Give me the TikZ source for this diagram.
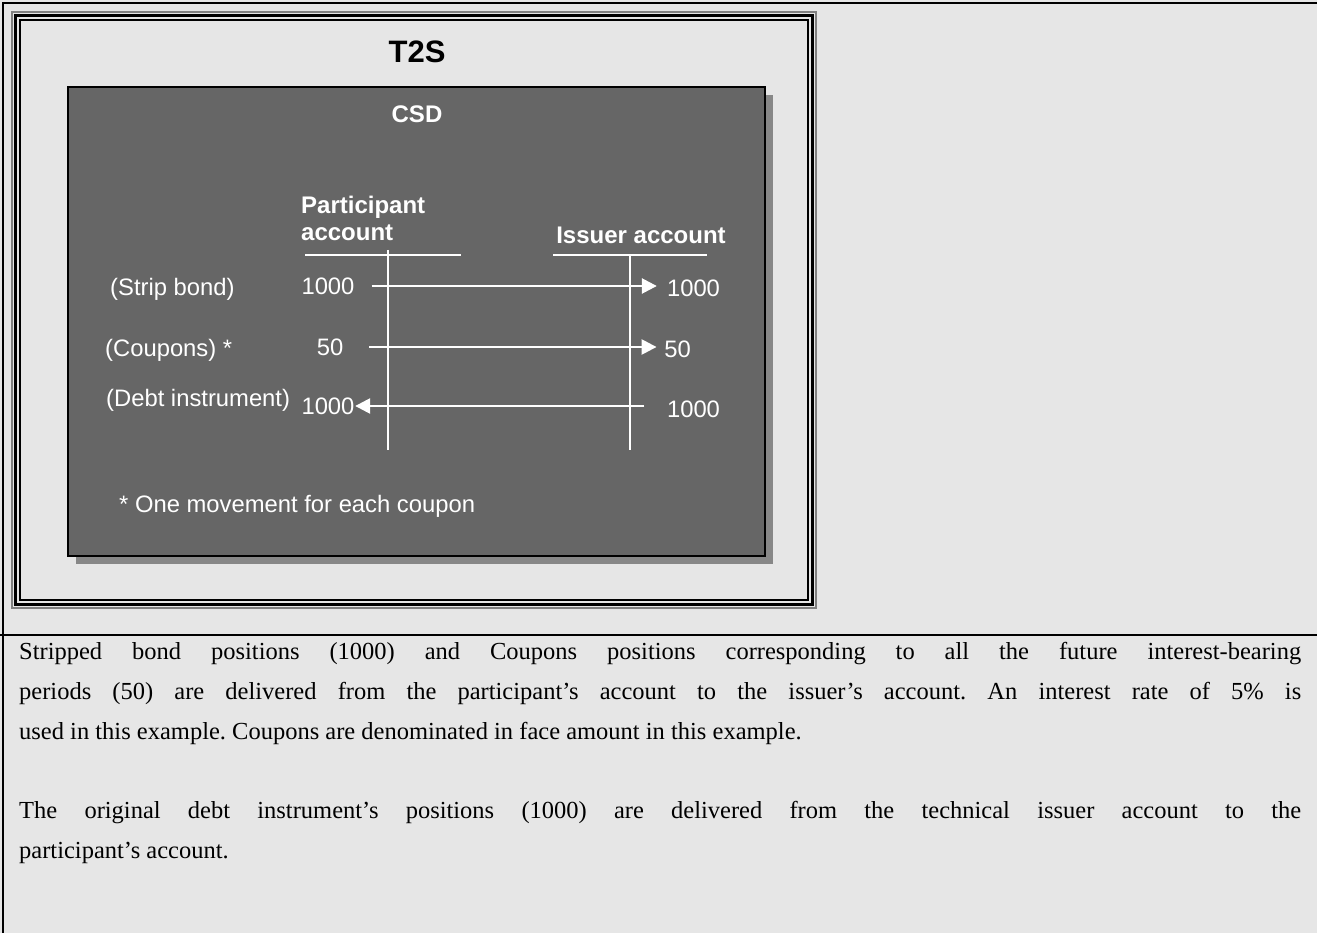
\documentclass[tikz,border=0pt]{standalone}
\usepackage{fontspec}
\setmainfont{Liberation Serif}
\setsansfont{Liberation Sans}
\usetikzlibrary{positioning,arrows.meta}
\definecolor{pagegray}{HTML}{E6E6E6}
\definecolor{csdgray}{HTML}{666666}
\definecolor{shadowgray}{HTML}{878787}

\begin{document}
\begin{tikzpicture}[x=1pt, y=-1pt,
  lbl/.style={text=white, inner sep=0pt,
              font=\sffamily\fontsize{23.8}{28}\selectfont},
  head/.style={text=white, inner sep=0pt,
               font=\sffamily\bfseries\fontsize{24}{27}\selectfont},
  flow/.style={draw=white, line width=2.5pt,
               -{Triangle[length=15pt,width=15pt]}},
  axis/.style={draw=white, line width=1.8pt},
  ]
  \useasboundingbox (0,0) rectangle (1317,933);
  \fill[pagegray] (0,0) rectangle (1317,933);
  % table rules
  \draw[line width=2.5pt] (3,934) -- (3,3) -- (1318,3);
  \draw[line width=2.5pt] (0,635) -- (1318,635);

  % T2S frame
  \draw[gray, line width=1.5pt] (12,12) rectangle (816,608);
  \draw[line width=3pt] (15.5,15.5) rectangle (812.5,604.5);
  \draw[line width=1.5pt] (20,20) rectangle (808,600);
  \node[inner sep=0pt, font=\sffamily\bfseries\fontsize{31}{31}\selectfont]
    (t2s) at (417,52) {T2S};

  % CSD box with its shadow
  \fill[shadowgray] (76,95) rectangle (773,564);
  \draw[fill=csdgray, line width=2pt] (68,87) rectangle (765,556);
  \node[head] (csd) at (417,114) {CSD};

  % account headers
  \node[head, align=left, anchor=north west] (part) at (301,195.6)
    {Participant\\account};
  \node[head] (iss) at (641,235) {Issuer account};
  \draw[axis] (305,255) -- (461,255);
  \draw[axis] (388,250) -- (388,450);
  \draw[axis] (553,255) -- (707,255);
  \draw[axis] (630,255) -- (630,450);

  % movements
  \node[lbl, anchor=west] (sb) at (110,289) {(Strip bond)};
  \node[lbl, anchor=west] (cp) at (105,350) {(Coupons) *};
  \node[lbl, anchor=west] (di) at (106,400) {(Debt instrument)};

  \node[lbl] (sb-l) at (328,286) {1000};
  \node[lbl] (sb-r) at (693.5,288) {1000};
  \node[lbl] (cp-l) at (330,347) {50};
  \node[lbl] (cp-r) at (677.5,349) {50};
  \node[lbl] (di-l) at (328,406) {1000};
  \node[lbl] (di-r) at (693.5,409) {1000};

  \draw[flow, shorten <=17pt, shorten >=10pt] (sb-l.east) -- (sb-l.east -| sb-r.west);
  \draw[flow, shorten <=26pt, shorten >=7.5pt] (cp-l.east) -- (cp-l.east -| cp-r.west);
  \draw[flow, shorten <=22.5pt, shorten >=0.5pt] (di-l.east -| di-r.west) -- (di-l.east);

  \node[lbl, anchor=west] (foot) at (119,506) {* One movement for each coupon};

  % description
  \node[anchor=north west, inner sep=0pt, text width=1282pt, align=justify,
        font=\fontsize{24.5}{40}\selectfont] (desc) at (19,642.5)
    {\frenchspacing\tolerance=10000\hyphenpenalty=10000
     Stripped bond positions (1000) and Coupons positions corresponding to
     all the future interest-bearing\linebreak periods (50) are delivered from
     the participant’s account to the issuer’s account. An interest rate of
     5\% is\linebreak used in this example. Coupons are denominated in face
     amount in this example.\par\vspace{39pt}
     The original debt instrument’s positions (1000) are delivered from the
     technical issuer account to the\linebreak participant’s account.};
\end{tikzpicture}
\end{document}
